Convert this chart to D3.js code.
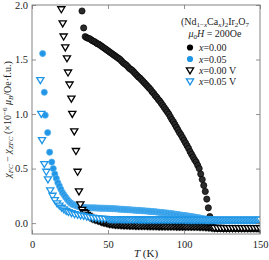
<!DOCTYPE html>
<html>
<head>
<meta charset="utf-8">
<script src="https://cdn.jsdelivr.net/npm/d3@7"></script>
<style>
  html, body { margin: 0; padding: 0; background: #fff; }
  svg { display: block; }
  text { font-family: "Liberation Serif", "DejaVu Serif", serif; fill: #222; }
</style>
</head>
<body>
<div id="chart"></div>
<script>
// ---------------- DATA ----------------
const xTicks = [0, 50, 100, 150];
const yTicks = [0.0, 0.5, 1.0, 1.5, 2.0];

// x = 0.00 (filled black circles)
const t000 = [32.9, 34,
  35, 36, 37, 38, 39, 40, 41, 42, 43, 44,
  45, 46, 47, 48, 49, 50, 51, 52, 53, 54,
  55, 56, 57, 58, 59, 60, 61, 62, 63, 64,
  65, 66, 67, 68, 69, 70, 71, 72, 73, 74,
  75, 76, 77, 78, 79, 80, 81, 82, 83, 84,
  85, 86, 87, 88, 89, 90, 91, 92, 93, 94,
  95, 96, 97, 98, 99, 100, 101, 102, 103, 104,
  105, 106, 107, 108, 109, 110, 111, 112, 113, 114,
  115, 116, 117, 118, 119, 120, 121, 122, 123, 124,
  125, 126, 127, 128, 129, 130, 131, 132, 133, 134,
  135, 136, 137, 138, 139, 140, 141, 142, 143, 144,
  145, 146, 147, 148, 149, 150];
const chi000 = [1.945, 1.79,
  1.71, 1.70, 1.695, 1.69, 1.68, 1.67, 1.665, 1.655, 1.645, 1.64,
  1.63, 1.62, 1.61, 1.60, 1.59, 1.58, 1.57, 1.56, 1.55, 1.54,
  1.53, 1.52, 1.51, 1.50, 1.485, 1.47, 1.46, 1.45, 1.435, 1.42,
  1.41, 1.40, 1.385, 1.37, 1.355, 1.34, 1.33, 1.315, 1.30, 1.285,
  1.27, 1.255, 1.24, 1.225, 1.205, 1.19, 1.17, 1.155, 1.135, 1.12,
  1.10, 1.08, 1.06, 1.04, 1.02, 1.00, 0.975, 0.95, 0.93, 0.905,
  0.88, 0.855, 0.83, 0.81, 0.785, 0.76, 0.735, 0.71, 0.685, 0.655,
  0.63, 0.605, 0.58, 0.56, 0.53, 0.50, 0.45, 0.40, 0.345, 0.29,
  0.22, 0.14, 0.06, -0.01, -0.035, -0.045, -0.048, -0.05, -0.05, -0.049,
  -0.05, -0.05, -0.051, -0.05, -0.05, -0.05, -0.049, -0.05, -0.05, -0.05,
  -0.05, -0.051, -0.05, -0.05, -0.05, -0.05, -0.05, -0.051, -0.05, -0.05,
  -0.05, -0.05, -0.051, -0.05, -0.052, -0.055];

// x = 0.05 (filled blue circles)
const t005 = [7, 8.1, 8.7, 10.3, 11.6, 13,
  14, 15, 16, 17, 18, 19, 20, 21, 22, 23,
  24, 25, 26, 27, 28, 29, 30, 31, 32, 33,
  34, 35, 36, 37, 38, 39, 40, 41, 42, 43,
  44, 45, 46, 47, 48, 49, 50, 51, 52, 53,
  54, 55, 56, 57, 58, 59, 60, 61, 62, 63,
  64, 65, 66, 67, 68, 69, 70, 71, 72, 73,
  74, 75, 76, 77, 78, 79, 80, 81, 82, 83,
  84, 85, 86, 87, 88, 89, 90, 91, 92, 93,
  94, 95, 96, 97, 98, 99, 100, 101, 102, 103,
  104, 105, 106, 107, 108, 109, 110, 111, 112, 113,
  114, 115, 116, 117, 118, 119, 120, 121, 122, 123,
  124, 125, 126, 127, 128, 129, 130, 131, 132, 133,
  134, 135, 136, 137, 138, 139, 140, 141, 142, 143,
  144, 145, 146, 147, 148, 149, 150];
const chi005 = [1.555, 1.20, 0.99, 0.83, 0.65, 0.56,
  0.50, 0.45, 0.41, 0.37, 0.34, 0.31, 0.28, 0.26, 0.24, 0.22,
  0.205, 0.19, 0.18, 0.17, 0.165, 0.16, 0.155, 0.15, 0.147, 0.145,
  0.143, 0.141, 0.14, 0.14, 0.14, 0.14, 0.14, 0.139, 0.139, 0.138,
  0.138, 0.137, 0.137, 0.136, 0.136, 0.135, 0.135, 0.134, 0.134, 0.133,
  0.132, 0.131, 0.13, 0.129, 0.128, 0.127, 0.126, 0.125, 0.124, 0.123,
  0.122, 0.121, 0.12, 0.119, 0.118, 0.117, 0.116, 0.115, 0.114, 0.113,
  0.112, 0.111, 0.11, 0.109, 0.107, 0.106, 0.105, 0.104, 0.102, 0.10,
  0.099, 0.098, 0.096, 0.095, 0.093, 0.092, 0.09, 0.088, 0.086, 0.084,
  0.082, 0.08, 0.078, 0.076, 0.074, 0.072, 0.07, 0.068, 0.066, 0.064,
  0.062, 0.06, 0.058, 0.055, 0.053, 0.05, 0.048, 0.045, 0.042, 0.04,
  0.037, 0.035, 0.033, 0.031, 0.03, 0.029, 0.028, 0.027, 0.027, 0.026,
  0.026, 0.026, 0.025, 0.025, 0.025, 0.025, 0.025, 0.025, 0.025, 0.025,
  0.025, 0.025, 0.025, 0.025, 0.025, 0.025, 0.025, 0.025, 0.025, 0.025,
  0.025, 0.025, 0.025, 0.025, 0.025, 0.025, 0.026];

// x = 0.00 V (open black triangles)
const t000V = [19.3, 20.2, 20.8, 21.9, 23, 23.7, 24.7, 25.9, 26.5, 27.8,
  28.9, 30, 30.9, 31.8, 33, 34, 35, 36, 37, 38, 39,
  40, 41, 42, 43, 44, 45, 46, 47, 48, 49,
  50, 51, 52, 53, 54, 55, 56, 57, 58, 59,
  60, 61, 62, 63, 64, 65, 66, 67, 68, 69,
  70, 71, 72, 73, 74, 75, 76, 77, 78, 79,
  80, 81, 82, 83, 84, 85, 86, 87, 88, 89,
  90, 91, 92, 93, 94, 95, 96, 97, 98, 99,
  100, 101, 102, 103, 104, 105, 106, 107, 108, 109,
  110, 111, 112, 113, 114, 115, 116, 117, 118, 119,
  120, 122, 124, 126, 128, 130, 132, 134, 136, 138,
  140, 142, 144, 146, 148, 150];
const chi000V = [1.96, 1.83, 1.71, 1.61, 1.51, 1.38, 1.27, 1.14, 1.00, 0.84,
  0.66, 0.47, 0.29, 0.17, 0.12, 0.10, 0.09, 0.075, 0.065, 0.055, 0.045,
  0.04, 0.035, 0.03, 0.025, 0.02, 0.015, 0.01, 0.006, 0.003, 0.0,
  -0.005, -0.008, -0.01, -0.012, -0.014, -0.015, -0.016, -0.017, -0.018, -0.019,
  -0.02, -0.02, -0.021, -0.021, -0.022, -0.022, -0.023, -0.023, -0.024, -0.024,
  -0.025, -0.025, -0.025, -0.026, -0.026, -0.026, -0.027, -0.027, -0.027, -0.028,
  -0.028, -0.028, -0.028, -0.029, -0.029, -0.029, -0.029, -0.03, -0.03, -0.03,
  -0.03, -0.03, -0.03, -0.03, -0.03, -0.031, -0.031, -0.031, -0.031, -0.031,
  -0.031, -0.032, -0.032, -0.032, -0.032, -0.032, -0.033, -0.033, -0.033, -0.033,
  -0.034, -0.034, -0.034, -0.035, -0.036, -0.037, -0.038, -0.04, -0.042, -0.044,
  -0.045, -0.046, -0.046, -0.047, -0.047, -0.047, -0.047, -0.047, -0.047, -0.047,
  -0.047, -0.047, -0.047, -0.047, -0.047, -0.048];

// x = 0.05 V (open blue triangles)
const t005V = [5.5, 6.1, 6.6, 8.1, 9.4, 10.5, 12, 13.5, 15, 16.5,
  18, 19.5, 21, 22.5, 24, 26, 28, 30, 32, 34,
  36, 38, 40, 42, 44, 46, 48, 50,
  51, 52, 53, 54, 55, 56, 57, 58, 59, 60,
  61, 62, 63, 64, 65, 66, 67, 68, 69, 70,
  71, 72, 73, 74, 75, 76, 77, 78, 79, 80,
  81, 82, 83, 84, 85, 86, 87, 88, 89, 90,
  91, 92, 93, 94, 95, 96, 97, 98, 99, 100,
  101, 102, 103, 104, 105, 106, 107, 108, 109, 110,
  111, 112, 113, 114, 115, 116, 117, 118, 119, 120,
  121, 122, 123, 124, 125, 126, 127, 128, 129, 130,
  131, 132, 133, 134, 135, 136, 137, 138, 139, 140,
  141, 142, 143, 144, 145, 146, 147, 148, 149, 150];
const chi005V = [1.31, 1.00, 0.76, 0.54, 0.47, 0.40, 0.30, 0.25, 0.21, 0.18,
  0.16, 0.14, 0.125, 0.11, 0.10, 0.09, 0.08, 0.075, 0.07, 0.065,
  0.058, 0.053, 0.048, 0.045, 0.042, 0.04, 0.038, 0.036,
  0.036, 0.035, 0.035, 0.035, 0.034, 0.034, 0.034, 0.034, 0.033, 0.033,
  0.033, 0.033, 0.033, 0.032, 0.032, 0.032, 0.032, 0.032, 0.032, 0.031,
  0.031, 0.031, 0.031, 0.031, 0.031, 0.031, 0.03, 0.03, 0.03, 0.03,
  0.03, 0.03, 0.03, 0.03, 0.03, 0.03, 0.03, 0.03, 0.029, 0.029,
  0.029, 0.029, 0.029, 0.029, 0.029, 0.029, 0.029, 0.029, 0.029, 0.029,
  0.028, 0.028, 0.028, 0.028, 0.028, 0.028, 0.028, 0.028, 0.028, 0.028,
  0.028, 0.028, 0.028, 0.028, 0.028, 0.028, 0.028, 0.028, 0.028, 0.028,
  0.028, 0.028, 0.028, 0.028, 0.028, 0.028, 0.028, 0.028, 0.028, 0.028,
  0.028, 0.028, 0.028, 0.028, 0.028, 0.028, 0.028, 0.028, 0.028, 0.028,
  0.028, 0.028, 0.028, 0.028, 0.028, 0.028, 0.028, 0.028, 0.028, 0.03];

const series = [
  {label: "0.00",   T: t000,  chi: chi000,  color: "#000000", edge: "#000000", shape: "circle"},
  {label: "0.05",   T: t005,  chi: chi005,  color: "#2196e6", edge: "#5ab3ef", shape: "circle"},
  {label: "0.00 V", T: t000V, chi: chi000V, color: "#000000", shape: "tri"},
  {label: "0.05 V", T: t005V, chi: chi005V, color: "#2196e6", shape: "tri"}
];

// ---------------- LAYOUT ----------------
const width = 269, height = 260;
const margin = {top: 5, right: 9, bottom: 26, left: 32};

const svg = d3.select("#chart").append("svg")
  .attr("width", width)
  .attr("height", height)
  .attr("font-family", "'Liberation Serif', serif");

const x = d3.scaleLinear().domain([0, 150]).range([margin.left, width - margin.right]);
const y = d3.scaleLinear().domain([-0.1, 2.0]).range([height - margin.bottom, margin.top]);

svg.append("clipPath").attr("id", "clip")
  .append("rect")
  .attr("x", margin.left).attr("y", margin.top)
  .attr("width", x.range()[1] - x.range()[0])
  .attr("height", y.range()[0] - y.range()[1]);

// markers
const triPath = "M-3.6,-2.6 L3.6,-2.6 L0,3.4 Z";
const plot = svg.append("g").attr("clip-path", "url(#clip)");

series.forEach(s => {
  const pts = s.T.map((t, i) => ({t: t, v: s.chi[i]}));
  const g = plot.append("g");
  if (s.shape === "circle") {
    g.selectAll("circle").data(pts).join("circle")
      .attr("cx", d => x(d.t))
      .attr("cy", d => y(d.v))
      .attr("r", 3.1)
      .attr("fill", s.color === "#000000" ? "#2b2b2b" : s.color)
      .attr("stroke", s.edge)
      .attr("stroke-width", 0.7);
  } else {
    g.selectAll("path").data(pts).join("path")
      .attr("transform", d => `translate(${x(d.t)},${y(d.v)})`)
      .attr("d", triPath)
      .attr("fill", "#fff")
      .attr("stroke", s.color)
      .attr("stroke-width", 1.3);
  }
});

// ---------------- AXES ----------------
const axisColor = "#777";
const gx = svg.append("g")
  .attr("transform", `translate(0,${y.range()[0]})`)
  .call(d3.axisBottom(x).tickValues(xTicks).tickSizeInner(-4).tickSizeOuter(0).tickPadding(7).tickFormat(d3.format("d")));
const gxTop = svg.append("g")
  .attr("transform", `translate(0,${margin.top})`)
  .call(d3.axisTop(x).tickValues(xTicks).tickSizeInner(-4).tickSizeOuter(0).tickFormat(""));
const gy = svg.append("g")
  .attr("transform", `translate(${margin.left},0)`)
  .call(d3.axisLeft(y).tickValues(yTicks).tickSizeInner(-4).tickSizeOuter(0).tickPadding(4).tickFormat(d3.format(".1f")));
const gyRight = svg.append("g")
  .attr("transform", `translate(${x.range()[1]},0)`)
  .call(d3.axisRight(y).tickValues(yTicks).tickSizeInner(-4).tickSizeOuter(0).tickFormat(""));

[gx, gxTop, gy, gyRight].forEach(g => {
  g.attr("font-family", null);
  g.select(".domain").remove();
  g.selectAll(".tick line").attr("stroke", axisColor).attr("stroke-width", 0.8);
  g.selectAll(".tick text")
    .attr("fill", "#333")
    .style("font-family", "'Liberation Serif', serif")
    .style("font-size", "10.5px");
});

svg.append("rect")
  .attr("x", x.range()[0]).attr("y", y.range()[1])
  .attr("width", x.range()[1] - x.range()[0])
  .attr("height", y.range()[0] - y.range()[1])
  .attr("fill", "none")
  .attr("stroke", axisColor)
  .attr("stroke-width", 0.9);

// x label
const xl = svg.append("text")
  .attr("x", 146).attr("y", 257)
  .attr("text-anchor", "middle")
  .style("font-size", "11px");
xl.append("tspan").style("font-style", "italic").text("T");
xl.append("tspan").text(" (K)");

// y label
const yl = svg.append("text")
  .attr("transform", `translate(11,${(y.range()[0] + y.range()[1]) / 2}) rotate(-90)`)
  .attr("text-anchor", "middle")
  .style("font-size", "10px");
yl.append("tspan").style("font-style", "italic").text("χ");
yl.append("tspan").attr("dy", 2).style("font-size", "7px").style("font-style", "italic").text("FC");
yl.append("tspan").attr("dy", -2).text(" − ");
yl.append("tspan").style("font-style", "italic").text("χ");
yl.append("tspan").attr("dy", 2).style("font-size", "7px").style("font-style", "italic").text("ZFC");
yl.append("tspan").attr("dy", -2).text(" (×10");
yl.append("tspan").attr("dy", -4).style("font-size", "7px").text("−6");
yl.append("tspan").attr("dy", 4).text(" ");
yl.append("tspan").style("font-style", "italic").text("μ");
yl.append("tspan").attr("dy", 2).style("font-size", "7px").style("font-style", "italic").text("B");
yl.append("tspan").attr("dy", -2).text("/Oe·f.u.)");

// ---------------- LEGEND ----------------
const leg = svg.append("g").style("font-size", "10px");
const t1 = leg.append("text").attr("x", 215).attr("y", 25).attr("text-anchor", "middle");
t1.append("tspan").text("(Nd");
t1.append("tspan").attr("dy", 2).style("font-size", "7px").text("1−");
t1.append("tspan").style("font-size", "7px").style("font-style", "italic").text("x");
t1.append("tspan").attr("dy", -2).text("Ca");
t1.append("tspan").attr("dy", 2).style("font-size", "7px").style("font-style", "italic").text("x");
t1.append("tspan").attr("dy", -2).text(")");
t1.append("tspan").attr("dy", 2).style("font-size", "7px").text("2");
t1.append("tspan").attr("dy", -2).text("Ir");
t1.append("tspan").attr("dy", 2).style("font-size", "7px").text("2");
t1.append("tspan").attr("dy", -2).text("O");
t1.append("tspan").attr("dy", 2).style("font-size", "7px").text("7");

const t2 = leg.append("text").attr("x", 215).attr("y", 37).attr("text-anchor", "middle");
t2.append("tspan").style("font-style", "italic").text("μ");
t2.append("tspan").attr("dy", 2).style("font-size", "7px").text("0");
t2.append("tspan").attr("dy", -2).style("font-style", "italic").text("H");
t2.append("tspan").text(" = 200Oe");

const rowY = [47.5, 59, 70.5, 81.5];
series.forEach((s, i) => {
  const cy = rowY[i];
  if (s.shape === "circle") {
    leg.append("circle").attr("cx", 190).attr("cy", cy).attr("r", 3.1).attr("fill", s.color);
  } else {
    leg.append("path").attr("transform", `translate(190,${cy})`).attr("d", triPath)
      .attr("fill", "#fff").attr("stroke", s.color).attr("stroke-width", 1.3);
  }
  const tx = leg.append("text").attr("x", 199).attr("y", cy + 3.5);
  tx.append("tspan").style("font-style", "italic").text("x");
  tx.append("tspan").text("=" + s.label);
});
</script>
</body>
</html>
